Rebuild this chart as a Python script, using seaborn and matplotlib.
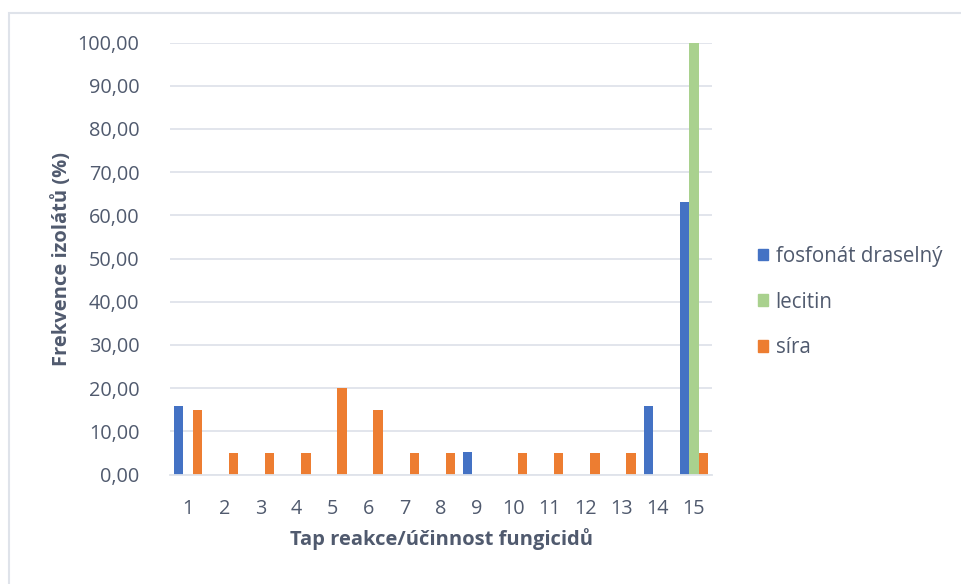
import matplotlib
matplotlib.use("Agg")
import matplotlib.pyplot as plt
import matplotlib.patches as mpatches
import matplotlib.ticker as mticker
import seaborn as sns
import pandas as pd

categories = [str(i) for i in range(1, 16)]
fosfonat = [15.79, 0, 0, 0, 0, 0, 0, 0, 5.26, 0, 0, 0, 0, 15.79, 63.16]
lecitin = [0, 0, 0, 0, 0, 0, 0, 0, 0, 0, 0, 0, 0, 0, 100.0]
sira = [15, 5, 5, 5, 20, 15, 5, 5, 0, 5, 5, 5, 5, 0, 5]
series_names = ["fosfonát draselný", "lecitin", "síra"]
colors = ["#4472C4", "#A9D18E", "#ED7D31"]

rows = []
for name, vals in zip(series_names, [fosfonat, lecitin, sira]):
    for c, v in zip(categories, vals):
        rows.append({"cat": c, "val": v, "series": name})
df = pd.DataFrame(rows)

sns.set_theme(style="white")
plt.rcParams["font.family"] = ["Open Sans", "DejaVu Sans"]
txt = "#505A6E"

fig = plt.figure(figsize=(9.62, 5.84), dpi=100)
ax = fig.add_axes([170/962, 109.5/584, 542/962, 432/584])

sns.barplot(data=df, x="cat", y="val", hue="series", order=categories,
            hue_order=series_names, palette=colors, saturation=1,
            width=0.78, ax=ax, legend=False, linewidth=0)

ax.set_ylim(0, 100)
ax.set_yticks(range(0, 101, 10))
ax.yaxis.set_major_formatter(mticker.FuncFormatter(lambda v, p: f"{v:.2f}".replace(".", ",")))
ax.grid(axis="y", color="#DFE3EA", linewidth=1.3)
ax.set_axisbelow(True)
for s in ["top", "right", "left"]:
    ax.spines[s].set_visible(False)
ax.spines["bottom"].set_color("#DFE3EA")
ax.spines["bottom"].set_linewidth(1.3)
ax.tick_params(axis="both", length=0, labelsize=14.3, colors=txt)
ax.tick_params(axis="x", pad=18)
ax.tick_params(axis="y", pad=22)
ax.set_xlim(-0.5, 14.5)

ax.set_xlabel("Tap reakce/účinnost fungicidů", fontsize=14.5, fontweight="bold", color=txt, labelpad=6)
ax.set_ylabel("Frekvence izolátů (%)", fontsize=14.5, fontweight="bold", color=txt, labelpad=4)

handles = [mpatches.Patch(color=c, label=n) for c, n in zip(colors, series_names)]
leg = fig.legend(handles=handles, loc="center left", bbox_to_anchor=(750/962, 1 - 302/584),
                 frameon=False, fontsize=14.8, labelspacing=1.2, handlelength=0.5,
                 handleheight=0.5, handletextpad=0.35, borderaxespad=0)
for t in leg.get_texts():
    t.set_color(txt)

border = mpatches.Rectangle((9/962, -0.1), 1.1, 1 - 13/584 + 0.1, transform=fig.transFigure,
                            fill=False, edgecolor="#DFE3EA", linewidth=1.5)
fig.patches.append(border)

fig.savefig("out.png", dpi=100)
